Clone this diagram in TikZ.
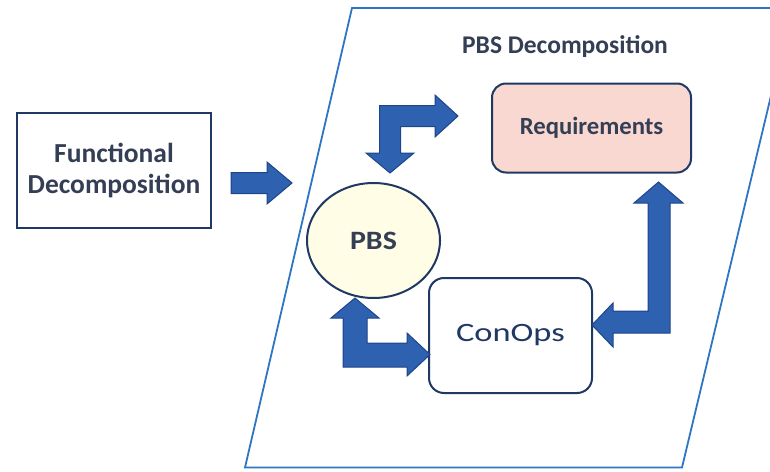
\documentclass[tikz,border=0pt]{standalone}
\usepackage{fontspec}
\setmainfont{Carlito}
\usetikzlibrary{shapes.geometric}
\definecolor{navy}{RGB}{31,56,100}
\definecolor{txt}{RGB}{52,62,84}
\definecolor{arrfill}{RGB}{46,98,176}
\definecolor{arrline}{RGB}{30,68,138}
\definecolor{frame}{RGB}{46,117,196}
\definecolor{pinkfill}{RGB}{248,216,208}
\definecolor{yelfill}{RGB}{255,253,230}
\begin{document}
\begin{tikzpicture}[x=1pt,y=-1pt,
  boxstyle/.style={draw=navy, line width=2pt, text=txt, align=center, inner sep=0pt},
  blockarrow/.style={fill=arrfill, draw=arrline, line width=1pt, line join=miter},
  framestyle/.style={draw=frame, line width=1.8pt}]
\clip (0,0) rectangle (770,471);
\fill[white] (0,0) rectangle (770,471);
% frame parallelogram
\draw[framestyle] (352,8) -- (792,8) -- (682,467.5) -- (245,467.5) -- cycle;
\node[text=txt, font=\fontsize{25.5}{30}\selectfont\bfseries] (title) at (565,47) {PBS Decomposition};
% nodes
\node[boxstyle, minimum width=194pt, minimum height=115pt,
      font=\fontsize{27.5}{31}\selectfont\bfseries] (func) at (114,170.5) {Functional\\Decomposition};
\node[boxstyle, rounded corners=14pt, fill=pinkfill, minimum width=199pt, minimum height=89pt,
      font=\fontsize{24.7}{28}\selectfont\bfseries] (req) at (591.5,128) {Requirements};
\node[boxstyle, rounded corners=15pt, fill=white, minimum width=163pt, minimum height=115pt,
      font=\fontsize{26.5}{30}\selectfont, text=navy] (conops) at (510.5,335.5) {\scalebox{1.3}[1]{ConOps}};
\node[boxstyle, ellipse, fill=yelfill, minimum width=133pt, minimum height=115pt,
      font=\fontsize{26.5}{30}\selectfont\bfseries] (pbs) at (373.5,240.5) {\scalebox{1.13}[1]{PBS}};
% straight arrow func -> frame
\draw[blockarrow] (231,172.5) -- (267,172.5) -- (267,162) -- (292,183) -- (267,204) -- (267,193.5) -- (231,193.5) -- cycle;
% top bent arrow: PBS <-> Requirements
\draw[blockarrow] (379.5,105.5) -- (435,105.5) -- (435,95) -- (458,116) -- (435,137) -- (435,126.5)
  -- (400.5,126.5) -- (400.5,153) -- (414,153) -- (390,173) -- (366,153) -- (379.5,153) -- cycle;
% bottom-left bent arrow: PBS <-> ConOps
\draw[blockarrow] (355,298) -- (379,318) -- (367,318) -- (367,343) -- (407,343) -- (407,333)
  -- (430,354.5) -- (407,376) -- (407,367) -- (343,367) -- (343,318) -- (331,318) -- cycle;
% right bent arrow: ConOps <-> Requirements
\draw[blockarrow] (658.5,182) -- (683,203) -- (670,203) -- (670,333) -- (613,333) -- (613,347)
  -- (592,325) -- (613,303) -- (613,311) -- (648,311) -- (648,203) -- (634,203) -- cycle;
\end{tikzpicture}
\end{document}
